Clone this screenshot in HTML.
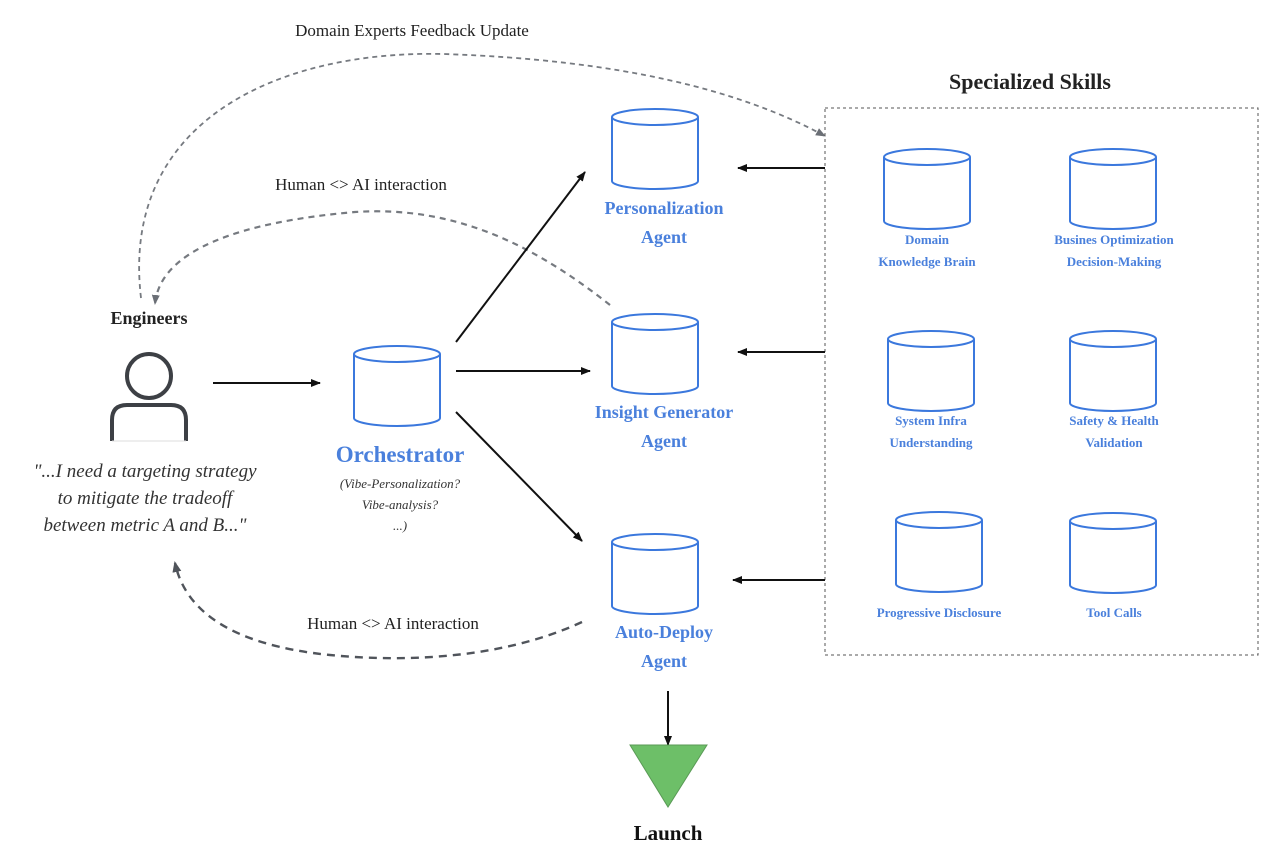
<!DOCTYPE html>
<html><head><meta charset="utf-8"><style>
html,body{margin:0;padding:0;background:#fff;}
svg{display:block;font-family:"Liberation Serif",serif;}
.b{fill:#fff;stroke:#3b78dd;stroke-width:2;}
.lb{fill:#4a80dc;font-weight:bold;text-anchor:middle;}
</style></head><body>
<svg width="1286" height="856" viewBox="0 0 1286 856">
<defs>
<marker id="ak" markerWidth="10" markerHeight="10" refX="9" refY="5" orient="auto" markerUnits="userSpaceOnUse"><path d="M0,1 L10,5 L0,9 z" fill="#111"/></marker>
<marker id="ag" markerWidth="10" markerHeight="10" refX="9" refY="5" orient="auto" markerUnits="userSpaceOnUse"><path d="M0,1 L10,5 L0,9 z" fill="#6b6f76"/></marker>
<marker id="ad" markerWidth="11" markerHeight="11" refX="9" refY="5.5" orient="auto" markerUnits="userSpaceOnUse"><path d="M0,1 L11,5.5 L0,10 z" fill="#50545b"/></marker>
<g id="cyl">
<path class="b" d="M0,9 L0,73 A43,8 0 0 0 86,73 L86,9"/>
<ellipse class="b" cx="43" cy="9" rx="43" ry="8"/>
</g>
</defs>

<!-- dashed curves -->
<path d="M141,298 C120,120 280,50 444,54 C620,60 740,90 825,136" fill="none" stroke="#767a80" stroke-width="1.8" stroke-dasharray="5,4" marker-end="url(#ag)"/>
<path d="M610,305 C540,250 460,205 355,212 C240,222 160,250 155,304" fill="none" stroke="#767a80" stroke-width="2.2" stroke-dasharray="6,5" marker-end="url(#ag)"/>
<path d="M582,622 C500,660 400,662 330,655 C230,645 185,610 175,563" fill="none" stroke="#50545b" stroke-width="2.4" stroke-dasharray="8,6" marker-end="url(#ad)"/>

<text x="412" y="36" font-size="17" fill="#222" text-anchor="middle">Domain Experts Feedback Update</text>
<text x="361" y="190" font-size="17" fill="#222" text-anchor="middle">Human &lt;&gt; AI interaction</text>
<text x="393" y="629" font-size="17" fill="#222" text-anchor="middle">Human &lt;&gt; AI interaction</text>

<!-- skills box -->
<rect x="825" y="108" width="433" height="547" fill="none" stroke="#555" stroke-width="1" stroke-dasharray="3,3"/>
<text x="1030" y="89" font-size="22" font-weight="bold" fill="#222" text-anchor="middle">Specialized Skills</text>

<!-- arrows -->
<line x1="213" y1="383" x2="320" y2="383" stroke="#111" stroke-width="2" marker-end="url(#ak)"/>
<line x1="456" y1="342" x2="585" y2="172" stroke="#111" stroke-width="2" marker-end="url(#ak)"/>
<line x1="456" y1="371" x2="590" y2="371" stroke="#111" stroke-width="2" marker-end="url(#ak)"/>
<line x1="456" y1="412" x2="582" y2="541" stroke="#111" stroke-width="2" marker-end="url(#ak)"/>
<line x1="825" y1="168" x2="738" y2="168" stroke="#111" stroke-width="2" marker-end="url(#ak)"/>
<line x1="825" y1="352" x2="738" y2="352" stroke="#111" stroke-width="2" marker-end="url(#ak)"/>
<line x1="825" y1="580" x2="733" y2="580" stroke="#111" stroke-width="2" marker-end="url(#ak)"/>
<line x1="668" y1="691" x2="668" y2="745" stroke="#111" stroke-width="2" marker-end="url(#ak)"/>

<!-- cylinders -->
<use href="#cyl" x="612" y="108"/>
<use href="#cyl" x="612" y="313"/>
<use href="#cyl" x="612" y="533"/>
<use href="#cyl" x="354" y="345"/>
<use href="#cyl" x="884" y="148"/>
<use href="#cyl" x="1070" y="148"/>
<use href="#cyl" x="888" y="330"/>
<use href="#cyl" x="1070" y="330"/>
<use href="#cyl" x="896" y="511"/>
<use href="#cyl" x="1070" y="512"/>

<text class="lb" x="664" y="214" font-size="18">Personalization</text>
<text class="lb" x="664" y="243" font-size="18">Agent</text>
<text class="lb" x="664" y="418" font-size="18">Insight Generator</text>
<text class="lb" x="664" y="447" font-size="18">Agent</text>
<text class="lb" x="664" y="638" font-size="18">Auto-Deploy</text>
<text class="lb" x="664" y="667" font-size="18">Agent</text>
<text class="lb" x="400" y="462" font-size="23">Orchestrator</text>
<g font-size="13" font-style="italic" fill="#333" text-anchor="middle">
<text x="400" y="488">(Vibe-Personalization?</text>
<text x="400" y="509">Vibe-analysis?</text>
<text x="400" y="530">...)</text>
</g>

<g font-size="13">
<text class="lb" x="927" y="244">Domain</text>
<text class="lb" x="927" y="266">Knowledge Brain</text>
<text class="lb" x="1114" y="244">Busines Optimization</text>
<text class="lb" x="1114" y="266">Decision-Making</text>
<text class="lb" x="931" y="425">System Infra</text>
<text class="lb" x="931" y="447">Understanding</text>
<text class="lb" x="1114" y="425">Safety &amp; Health</text>
<text class="lb" x="1114" y="447">Validation</text>
<text class="lb" x="939" y="617">Progressive Disclosure</text>
<text class="lb" x="1114" y="617">Tool Calls</text>
</g>

<!-- engineer -->
<text x="149" y="324" font-size="18" font-weight="bold" fill="#222" text-anchor="middle">Engineers</text>
<circle cx="149" cy="376" r="22" fill="#fff" stroke="#3d4045" stroke-width="4"/>
<path d="M112,441 L112,420 Q112,405 127,405 L171,405 Q186,405 186,420 L186,441" fill="#fff" stroke="#3d4045" stroke-width="4"/>
<line x1="112" y1="441" x2="186" y2="441" stroke="#ddd" stroke-width="1"/>
<g font-size="19" font-style="italic" fill="#333" text-anchor="middle">
<text x="145" y="477">"...I need a targeting strategy</text>
<text x="145" y="504">to mitigate the tradeoff</text>
<text x="145" y="531">between metric A and B..."</text>
</g>

<!-- launch -->
<polygon points="630,745 707,745 668,807" fill="#6dbf68" stroke="#5a9a56" stroke-width="1"/>
<text x="668" y="840" font-size="21" font-weight="bold" fill="#111" text-anchor="middle">Launch</text>
</svg>
</body></html>
